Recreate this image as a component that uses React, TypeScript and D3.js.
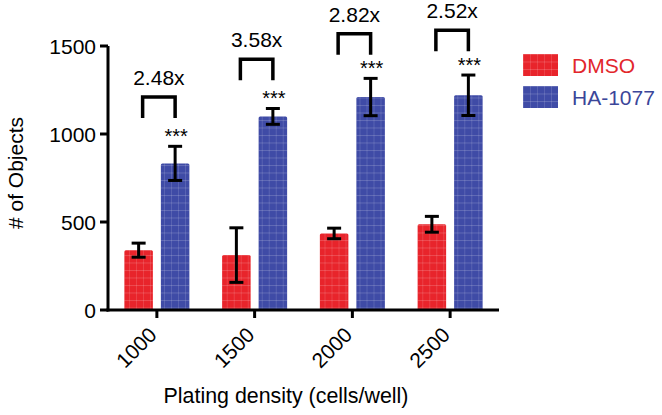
import React from "react";
import * as d3 from "d3";

const categories = ["1000", "1500", "2000", "2500"];
const seriesNames = ["DMSO", "HA-1077"];
const dmsoValues = [340, 312, 435, 487];
const dmsoErrors = [40, 155, 30, 45];
const haValues = [833, 1100, 1210, 1220];
const haErrors = [97, 45, 106, 115];
const foldLabels = ["2.48x", "3.58x", "2.82x", "2.52x"];
const bracketLevels = [1210, 1425, 1570, 1590];
const yTicks = [0, 500, 1000, 1500];

const W = 662;
const H = 415;
const FONT = "'Liberation Sans', Arial, Helvetica, sans-serif";
const RED = "#e8242b";
const BLUE = "#3f4ba6";

export default function App() {
  const x0 = d3.scaleBand<string>().domain(categories).range([108, 499]);
  const bw = x0.bandwidth();
  const x1 = d3
    .scaleBand<string>()
    .domain(seriesNames)
    .range([bw / 2 - 32.5, bw / 2 + 32.5])
    .paddingInner(0.219);
  const y = d3.scaleLinear().domain([0, 1500]).range([310, 46]);
  const colors = [RED, BLUE];
  const values = [dmsoValues, haValues];
  const errors = [dmsoErrors, haErrors];

  return (
    <svg width={W} height={H} style={{ position: "absolute", left: 0, top: 0, background: "#fff" }} fontFamily={FONT}>
      <defs>
        <pattern id="grid" patternUnits="userSpaceOnUse" width={7} height={7.5}>
          <line x1={0} y1={0.5} x2={7} y2={0.5} stroke="#fff" strokeOpacity={0.25} strokeWidth={0.7} />
          <line x1={0.5} y1={0} x2={0.5} y2={7.5} stroke="#fff" strokeOpacity={0.18} strokeWidth={0.7} />
        </pattern>
      </defs>
      {/* bars */}
      {categories.map((c, i) => (
        <g key={c} transform={`translate(${x0(c)},0)`}>
          {seriesNames.map((s, k) => {
            const bx = x1(s)!;
            const v = values[k][i];
            const e = errors[k][i];
            const cx = bx + x1.bandwidth() / 2;
            return (
              <g key={s}>
                <rect x={bx} y={y(v)} width={x1.bandwidth()} height={y(0) - y(v)} fill={colors[k]} rx={1.5} />
                <rect x={bx} y={y(v)} width={x1.bandwidth()} height={y(0) - y(v)} fill="url(#grid)" />
                <line x1={cx} x2={cx} y1={y(v + e)} y2={y(v - e)} stroke="#000" strokeWidth={3} />
                <line x1={cx - 7} x2={cx + 7} y1={y(v + e)} y2={y(v + e)} stroke="#000" strokeWidth={3} />
                <line x1={cx - 7} x2={cx + 7} y1={y(v - e)} y2={y(v - e)} stroke="#000" strokeWidth={3} />
              </g>
            );
          })}
          {(() => {
            const rc = x1("DMSO")! + x1.bandwidth() / 2;
            const bc = x1("HA-1077")! + x1.bandwidth() / 2;
            const top = y(haValues[i] + haErrors[i]);
            const by = y(bracketLevels[i]);
            return (
              <g>
                <text x={bc + 1} y={top - 3} textAnchor="middle" fontSize={20}>***</text>
                <path
                  d={`M${rc + 4},${by + 21}V${by}H${bc}V${by + 21}`}
                  fill="none"
                  stroke="#000"
                  strokeWidth={3.5}
                />
                <text x={(rc + 4 + bc) / 2} y={by - 12} textAnchor="middle" fontSize={21}>
                  {foldLabels[i]}
                </text>
              </g>
            );
          })()}
        </g>
      ))}
      {/* y axis */}
      <line x1={108} x2={108} y1={y(0) + 1.5} y2={y(1500)} stroke="#000" strokeWidth={3} />
      {yTicks.map((t) => (
        <g key={t}>
          <line x1={100} x2={108} y1={y(t)} y2={y(t)} stroke="#000" strokeWidth={3} />
          <text x={96} y={y(t)} dy="0.36em" textAnchor="end" fontSize={21}>
            {t}
          </text>
        </g>
      ))}
      {/* x axis */}
      <line x1={106.5} x2={499} y1={y(0)} y2={y(0)} stroke="#000" strokeWidth={3} />
      {categories.map((c) => {
        const cx = x0(c)! + bw / 2;
        return (
          <g key={c}>
            <line x1={cx} x2={cx} y1={y(0)} y2={y(0) + 8} stroke="#000" strokeWidth={3} />
            <text
              transform={`translate(${cx - 4},${y(0) + 21}) rotate(-45)`}
              textAnchor="end"
              dy="0.35em"
              fontSize={21}
            >
              {c}
            </text>
          </g>
        );
      })}
      <text transform="translate(23,173) rotate(-90)" textAnchor="middle" fontSize={21}>
        # of Objects
      </text>
      <text x={286} y={403} textAnchor="middle" fontSize={21.4}>
        Plating density (cells/well)
      </text>
      {/* legend */}
      {seriesNames.map((s, k) => (
        <g key={s} transform={`translate(523,${54 + k * 32})`}>
          <rect width={35} height={22} fill={colors[k]} />
          <rect width={35} height={22} fill="url(#grid)" />
          <text x={49} y={11} dy="0.36em" fontSize={21} fill={k === 0 ? "#e2262c" : "#3b4699"}>
            {s}
          </text>
        </g>
      ))}
    </svg>
  );
}
